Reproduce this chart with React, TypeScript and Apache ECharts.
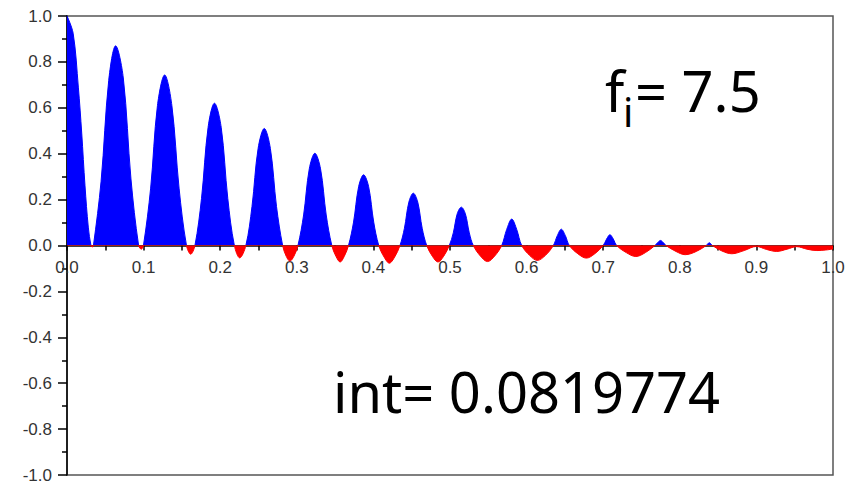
import React, { useEffect, useRef } from "react";
import * as echarts from "echarts";

// Curve samples (x in [0,1], y value)
const sampleX = [
  0, 0.008, 0.0148, 0.0192, 0.0235, 0.0278, 0.0313,
  0.033, 0.0345,
  0.0445, 0.0545, 0.0635, 0.0735, 0.0835, 0.0935,
  0.097, 0.0998,
  0.1092, 0.1181, 0.1275, 0.1369, 0.1463, 0.156,
  0.1615, 0.167,
  0.1756, 0.1842, 0.1925, 0.2013, 0.2099, 0.2185,
  0.2255, 0.2335,
  0.2415, 0.2495, 0.2575, 0.2655, 0.2735, 0.2815,
  0.2862, 0.291, 0.2962, 0.3015,
  0.3089, 0.3163, 0.3236, 0.331, 0.3384, 0.3457,
  0.3511, 0.3566, 0.362, 0.3675,
  0.3741, 0.3807, 0.3872, 0.3938, 0.4004, 0.407,
  0.4139, 0.4208, 0.4278, 0.4347,
  0.4405, 0.4463, 0.4521, 0.4579, 0.4637, 0.4696,
  0.477, 0.4843, 0.4917, 0.4991,
  0.5043, 0.5095, 0.5148, 0.52, 0.5252, 0.5304,
  0.5397, 0.549, 0.5583, 0.5675,
  0.574, 0.5806, 0.5871, 0.5936,
  0.6039, 0.614, 0.6246, 0.6349,
  0.6401, 0.6453, 0.6506, 0.6558,
  0.6669, 0.678, 0.689, 0.7,
  0.7044, 0.7088, 0.7132, 0.7176,
  0.7301, 0.7426, 0.7551, 0.7676,
  0.7712, 0.7748, 0.7784, 0.782,
  0.795, 0.807, 0.8215, 0.8345,
  0.8385, 0.8425,
  0.855, 0.868, 0.884, 0.9,
  0.913, 0.9265, 0.94, 0.9526,
  0.966, 0.979, 0.99, 1.0,
];
const sampleY = [
  1.0, 0.925, 0.69, 0.49, 0.26, 0.08, 0,
  -0.006, 0,
  0.28, 0.72, 0.87, 0.73, 0.29, 0,
  -0.016, 0,
  0.25, 0.61, 0.743, 0.61, 0.25, 0,
  -0.038, 0,
  0.205, 0.515, 0.62, 0.515, 0.205, 0,
  -0.054, 0,
  0.17, 0.423, 0.51, 0.423, 0.17, 0,
  -0.047, -0.068, -0.047, 0,
  0.133, 0.334, 0.402, 0.334, 0.133, 0,
  -0.047, -0.072, -0.047, 0,
  0.102, 0.256, 0.308, 0.256, 0.102, 0,
  -0.05, -0.077, -0.05, 0,
  0.075, 0.189, 0.228, 0.189, 0.075, 0,
  -0.047, -0.072, -0.047, 0,
  0.055, 0.139, 0.167, 0.139, 0.055, 0,
  -0.046, -0.07, -0.046, 0,
  0.07, 0.115, 0.07, 0,
  -0.043, -0.065, -0.043, 0,
  0.043, 0.071, 0.043, 0,
  -0.036, -0.055, -0.036, 0,
  0.028, 0.047, 0.028, 0,
  -0.031, -0.048, -0.031, 0,
  0.013, 0.022, 0.013, 0,
  -0.026, -0.04, -0.026, 0,
  0.012, 0,
  -0.024, -0.036, -0.022, -0.004,
  -0.017, -0.026, -0.016, -0.005,
  -0.016, -0.022, -0.02, -0.015,
];

const fiValue = "7.5";
const intValue = "0.0819774";

const GRID_TOP = 16;
const GRID_BOTTOM = 12;
const CHART_H = 487;

export default function App() {
  const ref = useRef<HTMLDivElement>(null);
  useEffect(() => {
    if (!ref.current) return;
    const chart = echarts.init(ref.current, null, { renderer: "svg" });
    const data = sampleX.map((x, i) => [x, sampleY[i]]);
    const labelFont = {
      fontFamily: "Liberation Sans",
      fontSize: 17,
      color: "#333",
    };
    // half of the grid height: moves the x axis from the bottom edge up to y = 0
    const zeroOffset = -(CHART_H - GRID_TOP - GRID_BOTTOM) / 2;
    chart.setOption({
      animation: false,
      backgroundColor: "#ffffff",
      grid: {
        left: 67,
        right: 17,
        top: GRID_TOP,
        bottom: GRID_BOTTOM,
        containLabel: false,
        outerBoundsMode: "none",
        show: true,
        borderColor: "#555",
        borderWidth: 1.5,
      },
      xAxis: {
        type: "value",
        min: 0,
        max: 1,
        interval: 0.1,
        position: "bottom",
        offset: zeroOffset,
        axisLine: { onZero: false, lineStyle: { color: "#000", width: 1.5 } },
        axisTick: { show: true, length: 5, lineStyle: { color: "#000", width: 1.5 } },
        minorTick: { show: true, splitNumber: 2, length: 5, lineStyle: { color: "#000", width: 1.5 } },
        splitLine: { show: false },
        axisLabel: {
          ...labelFont,
          margin: 13,
          showMinLabel: true,
          showMaxLabel: true,
          hideOverlap: false,
          formatter: (v: number) => v.toFixed(1),
        },
      },
      yAxis: {
        type: "value",
        min: -1,
        max: 1,
        interval: 0.2,
        axisLine: { show: true, onZero: false, lineStyle: { color: "#000", width: 1.5 } },
        axisTick: { show: true, length: 9, lineStyle: { color: "#000", width: 1.5 } },
        minorTick: { show: true, splitNumber: 2, length: 5, lineStyle: { color: "#000", width: 1.5 } },
        splitLine: { show: false },
        axisLabel: {
          ...labelFont,
          margin: 15,
          showMinLabel: true,
          showMaxLabel: true,
          formatter: (v: number) => v.toFixed(1),
        },
      },
      visualMap: {
        show: false,
        type: "piecewise",
        dimension: 1,
        seriesIndex: 0,
        pieces: [
          { gt: 0, lte: 2, color: "#0000ff" },
          { gte: -2, lte: 0, color: "#ff0000" },
        ],
      },
      series: [
        {
          type: "line",
          data,
          smooth: 0.35,
          showSymbol: false,
          symbol: "none",
          lineStyle: { width: 1 },
          areaStyle: { opacity: 1, origin: 0 },
          z: 1,
        },
      ],
      graphic: [
        {
          type: "text",
          x: 605,
          y: 90,
          style: {
            text: "f",
            fontFamily: "Noto Sans",
            fontSize: 56,
            fill: "#000",
            verticalAlign: "middle",
          },
        },
        {
          type: "text",
          x: 623,
          y: 111,
          style: {
            text: "i",
            fontFamily: "Noto Sans",
            fontSize: 40,
            fill: "#000",
            verticalAlign: "middle",
          },
        },
        {
          type: "text",
          x: 635,
          y: 90,
          style: {
            text: "= " + fiValue,
            fontFamily: "Noto Sans",
            fontSize: 56,
            fill: "#000",
            verticalAlign: "middle",
          },
        },
        {
          type: "text",
          x: 333,
          y: 391,
          style: {
            text: "int= " + intValue,
            fontFamily: "Noto Sans",
            fontSize: 56,
            fill: "#000",
            verticalAlign: "middle",
          },
        },
      ],
    });
    return () => chart.dispose();
  }, []);
  return (
    <div
      ref={ref}
      style={{ position: "fixed", left: 0, top: 0, width: 850, height: 487, background: "#fff" }}
    />
  );
}
